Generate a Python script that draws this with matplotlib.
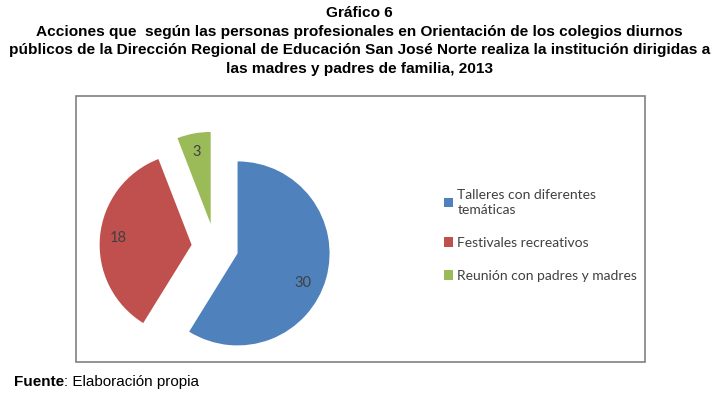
import matplotlib
matplotlib.use("Agg")
import matplotlib.pyplot as plt
from matplotlib import font_manager as fm
from matplotlib.patches import Rectangle

# data
categorias = ["Talleres con diferentes\ntemáticas", "Festivales recreativos",
              "Reunión con padres y madres"]
valores = [30, 18, 3]
colores = ["#4F81BD", "#C0504D", "#9BBB59"]

titulo = ["Gráfico 6",
          "Acciones que  según las personas profesionales en Orientación de los colegios diurnos",
          "públicos de la Dirección Regional de Educación San José Norte realiza la institución dirigidas a",
          "las madres y padres de familia, 2013"]

W, H = 719, 398
fig = plt.figure(figsize=(W / 100, H / 100), dpi=100)
ax = fig.add_axes([0, 0, 1, 1])

names = {f.name for f in fm.fontManager.ttflist}
if "Liberation Sans Narrow" in names:
    tfam, tsize = "Liberation Sans Narrow", 11.2
else:
    tfam, tsize = "Liberation Sans", 11.1

# chart frame
ax.add_patch(Rectangle((76, H - 362), 645 - 76, 362 - 96, fill=False,
                       edgecolor="#808080", linewidth=1.2))

R = 92
wedges, texts, autotexts = ax.pie(
    valores, colors=colores, startangle=90, counterclock=False,
    explode=[0.255 * R] * 3, radius=R, center=(215, H - 247),
    autopct=lambda p: "%d" % round(p * sum(valores) / 100.0),
    pctdistance=0.8, frame=True,
    textprops={"fontsize": 10.5, "color": "#404040", "family": "Lato"})
ax.set_xlim(0, W)
ax.set_ylim(0, H)
ax.set_axis_off()
ax.set_aspect("auto")
# Excel puts the big slice's label a bit lower
x0, y0 = autotexts[0].get_position()
autotexts[0].set_position((x0 - 5, y0 - 9))

leg = ax.legend(wedges, categorias, loc="upper left",
                bbox_to_anchor=(438 / W, 1 - 183 / H), frameon=False,
                prop={"family": "Lato", "size": 10}, handlelength=0.7,
                handleheight=0.7, handletextpad=0.3, labelspacing=1.5,
                borderaxespad=0)
for t in leg.get_texts():
    t.set_color("#404040")
    t.set_linespacing(1.35)

for i, linea in enumerate(titulo):
    fig.text(0.5, 1 - (13 + 18.7 * i) / H, linea, ha="center", va="center",
             family=tfam, fontsize=tsize, fontweight="bold")

r = fig.canvas.get_renderer()
f1 = fig.text(14 / W, 1 - 382 / H, "Fuente", family="Liberation Sans",
              fontsize=11, fontweight="bold", va="center")
bb = f1.get_window_extent(r)
fig.text(bb.x1 / W, 1 - 382 / H, ": Elaboración propia", family="Liberation Sans",
         fontsize=11, va="center")

fig.savefig("out.png", dpi=100)
